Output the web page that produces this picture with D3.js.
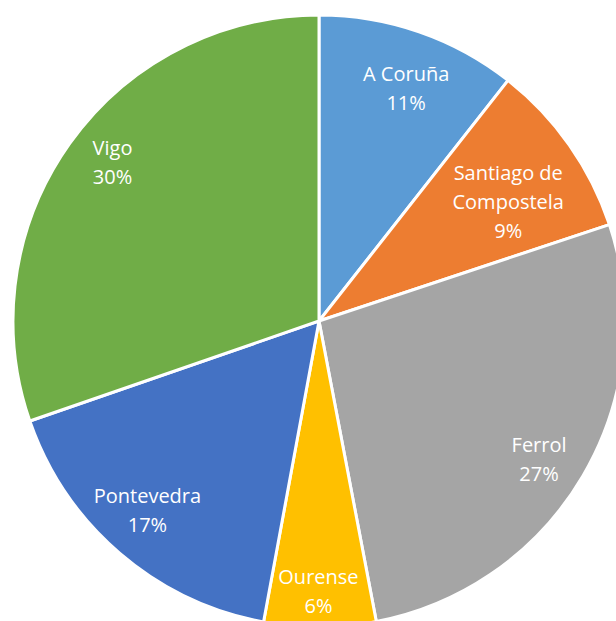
<!DOCTYPE html>
<meta charset="utf-8">
<html>
  <head>
  <title>Pie</title>
    <style>
      body {
        margin: 0;
        background: #fff;
      }
      .label {
        font-family: 'Open Sans', sans-serif;
        font-size: 20px;
        fill: #ffffff;
      }
    </style>
  </head>
  <body>
<div id="chart"></div>

<script src="https://cdn.jsdelivr.net/npm/d3@7/dist/d3.min.js"></script>
<script>

var cities = ["A Coruña", "Santiago de Compostela", "Ferrol", "Ourense", "Pontevedra", "Vigo"]
var shares = [10.6, 9.3, 27.1, 5.9, 16.8, 30.3]
var pctLabels = ["11%", "9%", "27%", "6%", "17%", "30%"]
var colors = ["#5B9BD5", "#ED7D31", "#A5A5A5", "#FFC000", "#4472C4", "#70AD47"]

// label lines (Santiago wraps in two)
var nameLines = [["A Coruña"], ["Santiago de", "Compostela"], ["Ferrol"], ["Ourense"], ["Pontevedra"], ["Vigo"]]

var width = 616;
var height = 621;
var cx = 319, cy = 321, radius = 306;

// how far out each label sits (fraction of radius) and a small turn in degrees, excel "best fit"
var labelRadius = [0.81, 0.73, 0.85, 0.885, 0.835, 0.85];
var labelTurn = [1.5, 3, 1.8, 0.3, 1.5, 2];

var svg = d3.select("#chart")
  .append("svg")
    .attr("width", width)
    .attr("height", height);

var g = svg.append("g")
    .attr("transform", "translate(" + cx + "," + cy + ")");

var pie = d3.pie()
    .sort(null)
    .value(function(d) { return d; });

var arcs = pie(shares);

var arc = d3.arc()
    .innerRadius(0)
    .outerRadius(radius);

g.selectAll("path")
  .data(arcs).enter()
  .append("path")
    .attr("d", arc)
    .style("fill", function(d, i) { return colors[i]; })
    .style("stroke", "#fff")
    .style("stroke-width", 3);

var lineH = 29;

var labels = g.selectAll(".label")
  .data(arcs).enter()
  .append("text")
    .attr("class", "label")
    .attr("text-anchor", "middle")
    .attr("transform", function(d, i) {
      var r = radius * labelRadius[i];
      var turn = labelTurn[i] * Math.PI / 180;
      var c = d3.arc().innerRadius(r).outerRadius(r)
        .centroid({startAngle: d.startAngle + turn, endAngle: d.endAngle + turn});
      return "translate(" + c[0] + "," + c[1] + ")";
    });

labels.each(function(d, i) {
  var lines = nameLines[i].concat([pctLabels[i]]);
  var t = d3.select(this);
  var y0 = -(lines.length - 1) * lineH / 2;
  lines.forEach(function(s, k) {
    t.append("tspan")
      .attr("x", 0)
      .attr("y", y0 + k * lineH)
      .attr("dy", "0.35em")
      .text(s);
  });
});

</script>
  </body>
</html>
